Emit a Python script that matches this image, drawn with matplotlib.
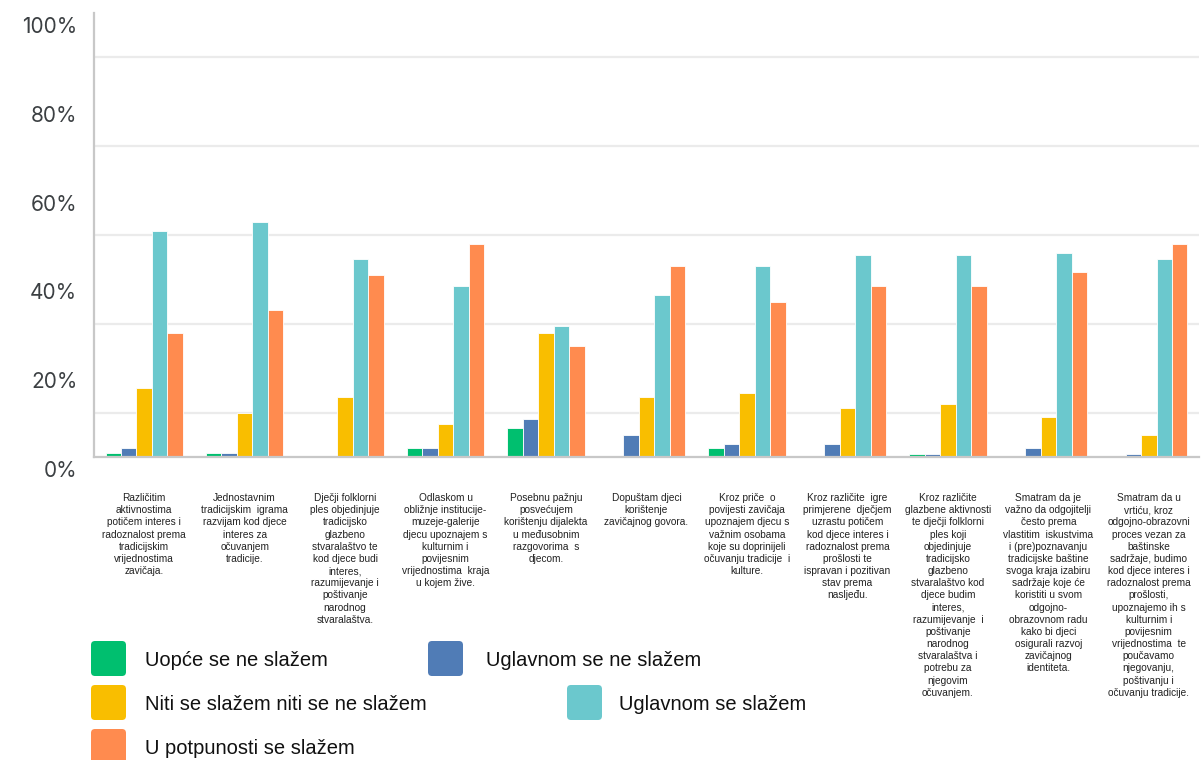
import matplotlib
matplotlib.use("Agg")
import matplotlib.pyplot as plt
import matplotlib.transforms as mtransforms
from matplotlib.patches import FancyBboxPatch
import numpy as np

# categories (x axis statements)
categories = [
    "Različitim\naktivnostima\npotičem interes i\nradoznalost prema\ntradicijskim\nvrijednostima\nzavičaja.",
    "Jednostavnim\ntradicijskim  igrama\nrazvijam kod djece\ninteres za\nočuvanjem\ntradicije.",
    "Dječji folklorni\nples objedinjuje\ntradicijsko\nglazbeno\nstvaralaštvo te\nkod djece budi\ninteres,\nrazumijevanje i\npoštivanje\nnarodnog\nstvaralaštva.",
    "Odlaskom u\nobližnje institucije-\nmuzeje-galerije\ndjecu upoznajem s\nkulturnim i\npovijesnim\nvrijednostima  kraja\nu kojem žive.",
    "Posebnu pažnju\nposvećujem\nkorištenju dijalekta\nu međusobnim\nrazgovorima  s\ndjecom.",
    "Dopuštam djeci\nkorištenje\nzavičajnog govora.",
    "Kroz priče  o\npovijesti zavičaja\nupoznajem djecu s\nvažnim osobama\nkoje su doprinijeli\nočuvanju tradicije  i\nkulture.",
    "Kroz različite  igre\nprimjerene  dječjem\nuzrastu potičem\nkod djece interes i\nradoznalost prema\nprošlosti te\nispravan i pozitivan\nstav prema\nnasljeđu.",
    "Kroz različite\nglazbene aktivnosti\nte dječji folklorni\nples koji\nobjedinjuje\ntradicijsko\nglazbeno\nstvaralaštvo kod\ndjece budim\ninteres,\nrazumijevanje  i\npoštivanje\nnarodnog\nstvaralaštva i\npotrebu za\nnjegovim\nočuvanjem.",
    "Smatram da je\nvažno da odgojitelji\nčesto prema\nvlastitim  iskustvima\ni (pre)poznavanju\ntradicijske baštine\nsvoga kraja izabiru\nsadržaje koje će\nkoristiti u svom\nodgojno-\nobrazovnom radu\nkako bi djeci\nosigurali razvoj\nzavičajnog\nidentiteta.",
    "Smatram da u\nvrtiću, kroz\nodgojno-obrazovni\nproces vezan za\nbaštinske\nsadržaje, budimo\nkod djece interes i\nradoznalost prema\nprošlosti,\nupoznajemo ih s\nkulturnim i\npovijesnim\nvrijednostima  te\npoučavamo\nnjegovanju,\npoštivanju i\nočuvanju tradicije.",
]

series_names = [
    "Uopće se ne slažem",
    "Uglavnom se ne slažem",
    "Niti se slažem niti se ne slažem",
    "Uglavnom se slažem",
    "U potpunosti se slažem",
]
series_colors = ["#00bf6f", "#507cb6", "#f9be00", "#6bc8cd", "#ff8b4f"]

# percentages
uopce_ne = [0.8, 0.8, 0, 2, 6.5, 0, 2, 0, 0.6, 0, 0]
uglavnom_ne = [2, 0.8, 0, 2, 8.5, 5, 3, 3, 0.6, 2, 0.6]
niti_niti = [15.5, 10, 13.5, 7.5, 28, 13.5, 14.5, 11, 12, 9, 5]
uglavnom_da = [51, 53, 44.5, 38.5, 29.6, 36.5, 43, 45.6, 45.6, 46, 44.5]
potpuno_da = [28, 33, 41, 48, 25, 43, 35, 38.5, 38.5, 41.6, 48]

all_series = [uopce_ne, uglavnom_ne, niti_niti, uglavnom_da, potpuno_da]

W, H = 1201, 760
fig = plt.figure(figsize=(W / 100, H / 100), dpi=100)
ax = fig.add_axes([94 / W, (H - 457) / H, 1105 / W, 444 / H])

ind = np.arange(len(categories))
width = 0.154
for i, (vals, col) in enumerate(zip(all_series, series_colors)):
    ax.bar(ind + (i - 2) * width, vals, width, color=col,
           edgecolor="white", linewidth=0.6, zorder=3)

ax.set_xlim(-0.5, len(categories) - 0.5)
ax.set_ylim(0, 100)

# y axis: labels every 20 %, light grid every 10 %
ax.set_yticks(np.arange(0, 101, 20))
ax.set_yticklabels(["%d%%" % v for v in range(0, 101, 20)],
                   fontfamily="Inter", fontsize=15, color="#3c4043")
ax.set_yticks(np.arange(0, 100, 10), minor=True)
ax.grid(which="minor", axis="y", color="#ebebeb", linewidth=1.6, zorder=0)
ax.grid(which="major", axis="y", visible=False)
ax.tick_params(axis="y", which="both", length=0, pad=12)
offset = mtransforms.ScaledTranslation(0, -0.12, fig.dpi_scale_trans)
for lbl in ax.get_yticklabels():
    lbl.set_transform(lbl.get_transform() + offset)

ax.set_xticks(ind)
ax.set_xticklabels(categories, fontfamily="Liberation Sans", fontsize=7.3,
                   color="#222222", linespacing=1.27, va="top")
ax.tick_params(axis="x", length=0, pad=26)

for side in ["top", "right"]:
    ax.spines[side].set_visible(False)
for side in ["left", "bottom"]:
    ax.spines[side].set_color("#c8c8c8")
    ax.spines[side].set_linewidth(1.6)
    ax.spines[side].set_zorder(4)

# legend built by hand, like in the original layout (pixel positions)
legend_spots = [(91, 641, 145), (428, 641, 486), (91, 685, 145),
                (567, 685, 619), (91, 729, 145)]
for name, col, (px, py, tx) in zip(series_names, series_colors, legend_spots):
    box = FancyBboxPatch((px, H - py - 35), 35, 35,
                         boxstyle="round,pad=0,rounding_size=4",
                         facecolor=col, edgecolor="none",
                         transform=mtransforms.IdentityTransform())
    fig.patches.append(box)
    fig.text(tx / W, 1 - (py + 19) / H, name, fontfamily="Liberation Sans",
             fontsize=14.5, color="#111111", va="center", ha="left")

fig.savefig("out.png", dpi=100)
